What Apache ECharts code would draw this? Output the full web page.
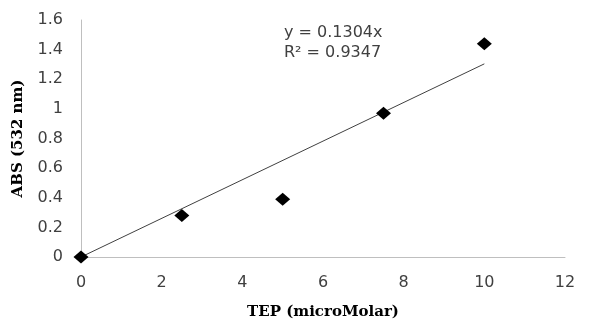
<!DOCTYPE html>
<html><head><meta charset="utf-8">
<script src="https://cdn.jsdelivr.net/npm/echarts@6/dist/echarts.min.js"></script>
<style>html,body{margin:0;padding:0;background:#fff}#c{width:594px;height:325px}</style>
</head><body><div id="c"></div>
<script>
const xValues = [0, 2.5, 5, 7.5, 10];
const absValues = [0, 0.28, 0.39, 0.97, 1.44];
const slope = 0.1304;
const r2 = 0.9347;
const trendX = [0, 10];
const xTitle = 'TEP (microMolar)';
const yTitle = 'ABS (532 nm)';

const points = xValues.map((x, i) => [x, absValues[i]]);
const trend = trendX.map(x => [x, +(slope * x).toFixed(4)]);

const chart = echarts.init(document.getElementById('c'));
chart.setOption({
  animation: false,
  grid: {left: 81, right: 29, top: 20, bottom: 62},
  xAxis: {
    type: 'value', min: 0, max: 12, interval: 2,
    name: xTitle, nameLocation: 'middle', nameGap: 48,
    nameTextStyle: {fontFamily: 'DejaVu Serif', fontWeight: 'bold', fontSize: 15, color: '#000'},
    axisLine: {lineStyle: {color: '#bfbfbf', width: 1}},
    axisTick: {show: false},
    axisLabel: {fontFamily: 'DejaVu Sans', fontSize: 16, color: '#404040', margin: 18},
    splitLine: {show: false}
  },
  yAxis: {
    type: 'value', min: 0, max: 1.6, interval: 0.2,
    name: yTitle, nameLocation: 'middle', nameGap: 55,
    nameTextStyle: {fontFamily: 'DejaVu Serif', fontWeight: 'bold', fontSize: 15, color: '#000'},
    axisLine: {show: true, lineStyle: {color: '#bfbfbf', width: 1}},
    axisTick: {show: false},
    axisLabel: {fontFamily: 'DejaVu Sans', fontSize: 16, color: '#404040', margin: 18},
    splitLine: {show: false}
  },
  series: [
    {
      type: 'line', data: trend, symbol: 'none', silent: true,
      lineStyle: {color: '#404040', width: 1}, z: 1
    },
    {
      type: 'scatter', data: points, symbol: 'diamond', symbolSize: [15, 13],
      itemStyle: {color: '#000', opacity: 1}, z: 2
    }
  ],
  graphic: [
    {type: 'text', left: 284, top: 23, style: {text: 'y = ' + slope + 'x\nR² = ' + r2, fontFamily: 'DejaVu Sans', fontSize: 16, lineHeight: 20, fill: '#404040'}}
  ]
});
</script></body></html>
